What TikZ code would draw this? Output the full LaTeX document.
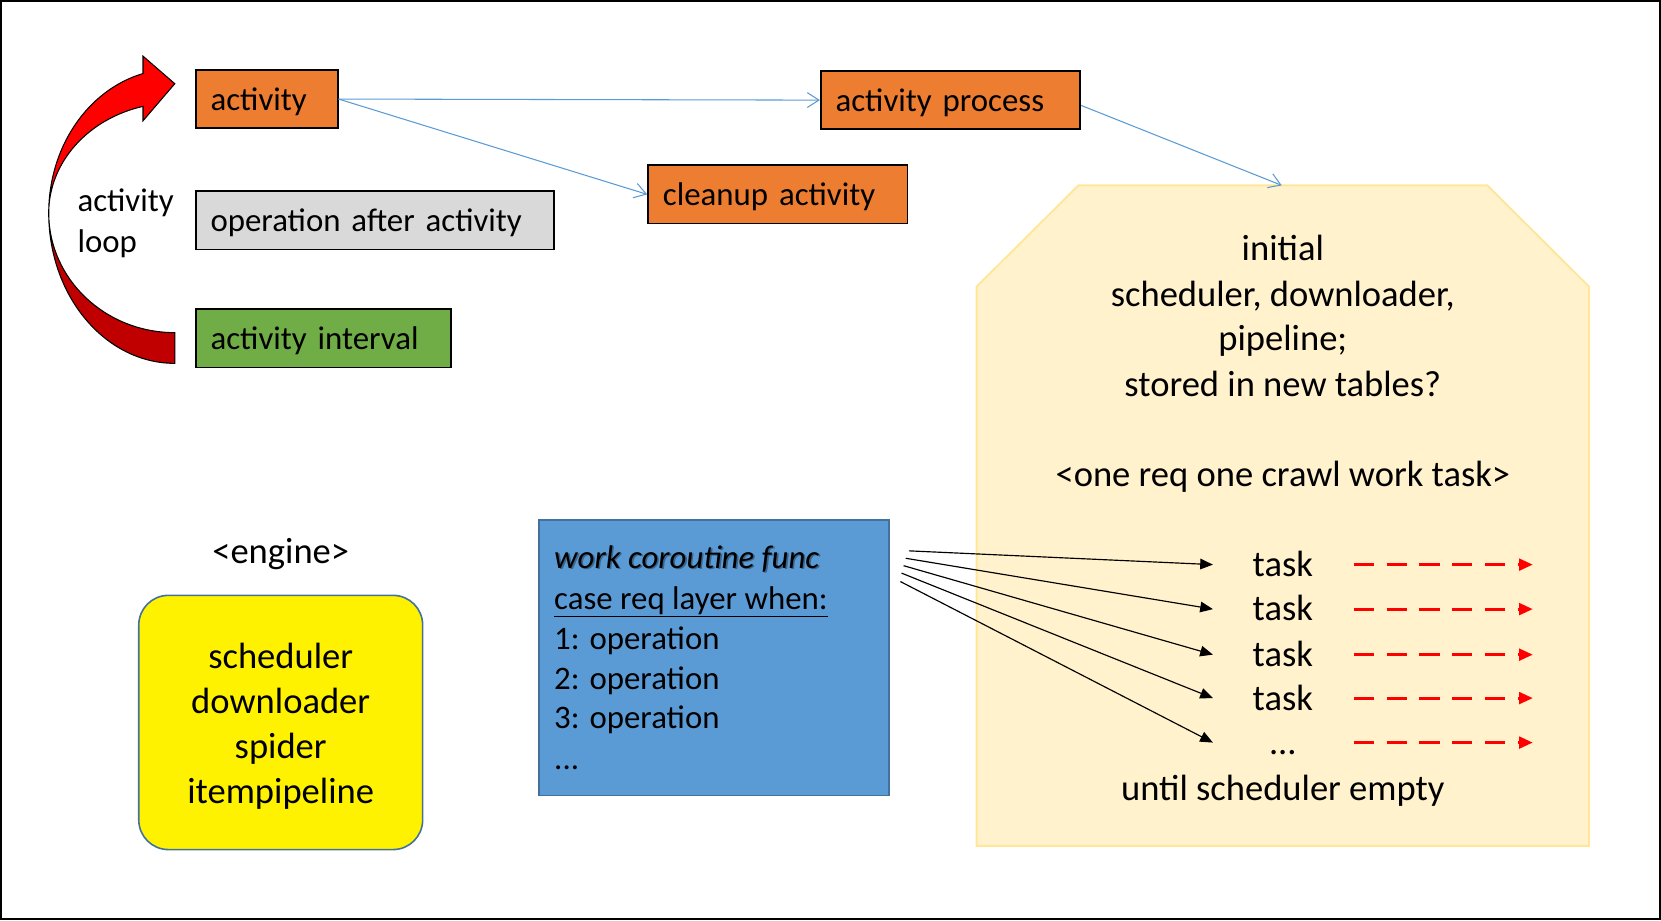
\documentclass[tikz,border=0pt]{standalone}
\usepackage{fontspec}
\setmainfont{Carlito}
\usetikzlibrary{arrows.meta}
\definecolor{orng}{HTML}{ED7D31}
\definecolor{gry}{HTML}{D9D9D9}
\definecolor{grn}{HTML}{70AD47}
\definecolor{blu}{HTML}{5B9BD5}
\definecolor{bluedge}{HTML}{41719C}
\definecolor{cream}{HTML}{FFF2CC}
\definecolor{creamedge}{HTML}{FFE699}
\definecolor{darkred}{HTML}{C00000}
\definecolor{lnblue}{HTML}{5B9BD5}
\newcommand\smfnt{\fontsize{31}{38}\selectfont}
\newcommand\bgfnt{\fontsize{34.5}{42.5}\selectfont}
\begin{document}
\begin{tikzpicture}[x=1pt,y=-1pt,
  lblbox/.style={draw=black, line width=1.6pt, inner xsep=14pt, inner ysep=0pt,
    minimum height=55pt, text height=21pt, text depth=0pt, align=left, font=\smfnt, anchor=west},
  bluearrow/.style={draw=lnblue, line width=1pt, -{Straight Barb[length=11pt,width=14pt,line width=1pt]}},
  blackarrow/.style={draw=black, line width=1.1pt, -{Triangle[length=12pt,width=10pt]}},
  redarrow/.style={draw=red, line width=2.8pt, dash pattern=on 19pt off 12pt, -{Triangle[length=13pt,width=11pt]}},
  bigtxt/.style={font=\bgfnt, anchor=base, inner sep=0pt},
  smtxt/.style={font=\smfnt, anchor=base west, inner sep=0pt}
]
\useasboundingbox (0,0) rectangle (1568,868.5);
\draw[line width=1.5pt] (0.75,0.75) rectangle (1567.25,867.75);

% curved loop arrow
\path[fill=darkred, draw=black, line width=1pt]
  (46,201) .. controls (46,279.4) and (99.3,343) .. (165,343)
  -- (165,314) .. controls (99.3,314) and (46,263.4) .. (46,201) -- cycle;
\path[fill=red, draw=black, line width=1pt, line join=miter]
  (46,201) .. controls (46,139.1) and (82.6,85) .. (135,69.4)
  -- (135,53) -- (165,79) -- (135,114) -- (135,100.4)
  .. controls (82.6,112.3) and (46,153.7) .. (46,201) -- cycle;
\node[smtxt] (looptxt1) at (73,200) {activity};
\node[smtxt] (looptxt2) at (73,238) {loop};

% left boxes
\node[lblbox, fill=orng, text width=106pt] (act) at (184,93.5) {activity};
\node[lblbox, fill=gry, text width=310pt] (op) at (184,208) {operation after activity};
\node[lblbox, fill=grn, text width=213pt] (intv) at (184,319.5) {activity interval};
\node[lblbox, fill=orng, text width=217pt] (ap) at (774,94.5) {activity process};
\node[lblbox, fill=orng, text width=217pt] (clean) at (611,183.5) {cleanup activity};

% cream shape
\path[fill=cream, draw=creamedge, line width=1.8pt, line join=miter]
  (1018,175) -- (1404,175) -- (1500,270.5) -- (1500,798.5) -- (922,798.5) -- (922,270.5) -- cycle;
\coordinate (ytop) at (1210,175);

\draw[bluearrow] (act.east) -- (ap.west);
\draw[bluearrow] (act.east) -- (clean.west);
\draw[bluearrow] ([yshift=-5pt]ap.east) -- (ytop);

% cream text
\node[bigtxt] (l1) at (1211,246) {initial};
\node[bigtxt] (l2) at (1211,289) {scheduler, downloader,};
\node[bigtxt] (l3) at (1211,331) {pipeline;};
\node[bigtxt] (l4) at (1211,374) {stored in new tables?};
\node[bigtxt] (l5) at (1211,459) {<one req one crawl work task>};
\node[bigtxt] (t1) at (1211,544) {task};
\node[bigtxt] (t2) at (1211,586) {task};
\node[bigtxt] (t3) at (1211,629) {task};
\node[bigtxt] (t4) at (1211,671) {task};
\node[bigtxt] (t5) at (1211,712) {...};
\node[bigtxt] (l6) at (1211,756) {until scheduler empty};

% engine
\node[bigtxt] (engt) at (265,532) {<engine>};
\node[draw=bluedge, fill=yellow, line width=1.5pt, rounded corners=28pt,
  minimum width=268pt, minimum height=240pt, inner sep=0pt] (eng) at (265,682) {};
\node[align=center, font=\bgfnt, inner sep=0pt] (engtext) at (265,686)
  {scheduler\\downloader\\spider\\itempipeline};

% blue box
\node[draw=bluedge, fill=blu, line width=1.5pt, minimum width=330pt, minimum height=260pt, inner sep=0pt]
  (work) at (674,621) {};
\node[smtxt, text=black, opacity=0.35] (w0) at (524.5,538) {\itshape work coroutine func};
\node[smtxt] (w1) at (523,536.5) {\itshape work coroutine func};
\node[smtxt] (w2) at (523,575) {\underline{case req layer when:}};
\node[smtxt] (w3) at (523,613) {1: operation};
\node[smtxt] (w4) at (523,650.5) {2: operation};
\node[smtxt] (w5) at (523,688) {3: operation};
\node[smtxt] (w6) at (523,726) {...};

% fan arrows
\coordinate (s1) at (858,520);
\coordinate (s2) at (855,527);
\coordinate (s3) at (853,534);
\coordinate (s4) at (851,541);
\coordinate (s5) at (850,549);
\coordinate (e1) at (1145,533);
\coordinate (e2) at (1145,575);
\coordinate (e3) at (1145,618);
\coordinate (e4) at (1145,659);
\coordinate (e5) at (1145,701);
\draw[blackarrow] (s1) -- (e1);
\draw[blackarrow] (s2) -- (e2);
\draw[blackarrow] (s3) -- (e3);
\draw[blackarrow] (s4) -- (e4);
\draw[blackarrow] (s5) -- (e5);

% red dashed arrows
\foreach \i/\yy in {1/533,2/575,3/618,4/659,5/701}{
  \coordinate (r\i a) at (1278,\yy);
  \coordinate (r\i b) at (1447,\yy);
  \draw[redarrow] (r\i a) -- (r\i b);
}
\end{tikzpicture}
\end{document}
